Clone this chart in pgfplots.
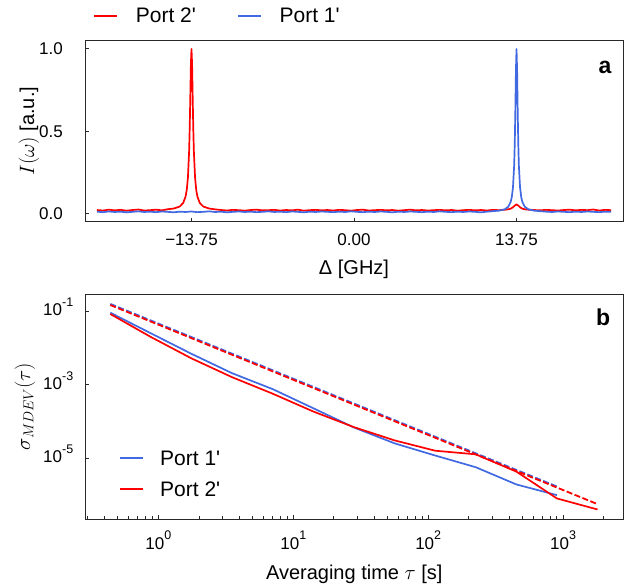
\documentclass[border=0pt]{standalone}
\usepackage{fontspec}
\setmainfont{Liberation Sans}[Ligatures=TeXOff]
\usepackage{pgfplots}
\usepackage{pgfplotstable}
\pgfplotsset{compat=1.18}
\definecolor{pred}{RGB}{255,0,0}
\definecolor{pblue}{RGB}{65,105,225}
\definecolor{axgray}{RGB}{40,40,40}
\newcommand{\tenpow}[1]{10\raisebox{9.5pt}{\fontsize{12.5}{13}\selectfont #1}}

\pgfplotstableread{
x y
-21.75 0.021
-21.25 0.018
-20.75 0.023
-20.25 0.019
-19.75 0.022
-19.25 0.017
-18.75 0.021
-18.25 0.024
-17.75 0.018
-17.25 0.020
-16.75 0.023
-16.25 0.019
-15.75 0.026
-15.25 0.030
-14.75 0.042
-14.45 0.064
-14.25 0.103
-14.15 0.143
-14.05 0.22
-13.95 0.38
-13.90 0.52
-13.85 0.71
-13.80 0.91
-13.75 1.0
-13.70 0.91
-13.65 0.71
-13.60 0.52
-13.55 0.38
-13.45 0.22
-13.35 0.143
-13.25 0.103
-13.05 0.064
-12.75 0.042
-12.25 0.030
-11.75 0.025
-11.25 0.021
-10.75 0.018
-10.25 0.022
-9.75 0.020
-9.25 0.017
-8.75 0.021
-8.25 0.023
-7.75 0.019
-7.25 0.020
-6.75 0.022
-6.25 0.018
-5.75 0.021
-5.25 0.019
-4.75 0.023
-4.25 0.017
-3.75 0.020
-3.25 0.022
-2.75 0.019
-2.25 0.021
-1.75 0.018
-1.25 0.022
-0.75 0.020
-0.25 0.017
0.25 0.021
0.75 0.023
1.25 0.018
1.75 0.020
2.25 0.022
2.75 0.019
3.25 0.021
3.75 0.017
4.25 0.020
4.75 0.023
5.25 0.019
5.75 0.021
6.25 0.018
6.75 0.020
7.25 0.022
7.75 0.019
8.25 0.021
8.75 0.017
9.25 0.020
9.75 0.022
10.25 0.019
10.75 0.021
11.25 0.018
11.75 0.022
12.25 0.020
12.95 0.024
13.25 0.029
13.45 0.0375
13.60 0.048
13.75 0.055
13.90 0.048
14.05 0.0375
14.25 0.029
14.55 0.024
15.25 0.021
15.75 0.019
16.25 0.022
16.75 0.020
17.25 0.018
17.75 0.021
18.25 0.023
18.75 0.019
19.25 0.022
19.75 0.020
20.25 0.024
20.75 0.018
21.25 0.022
21.75 0.020
}\redspec

\pgfplotstableread{
x y
-21.75 0.011
-21.25 0.008
-20.75 0.012
-20.25 0.009
-19.75 0.011
-19.25 0.007
-18.75 0.010
-18.25 0.013
-17.75 0.009
-17.25 0.011
-16.75 0.008
-16.25 0.012
-15.75 0.010
-15.25 0.007
-14.75 0.011
-14.25 0.009
-13.75 0.012
-13.25 0.008
-12.75 0.010
-12.25 0.013
-11.75 0.009
-11.25 0.011
-10.75 0.007
-10.25 0.010
-9.75 0.012
-9.25 0.009
-8.75 0.011
-8.25 0.008
-7.75 0.010
-7.25 0.013
-6.75 0.009
-6.25 0.011
-5.75 0.008
-5.25 0.012
-4.75 0.010
-4.25 0.007
-3.75 0.011
-3.25 0.009
-2.75 0.012
-2.25 0.010
-1.75 0.008
-1.25 0.011
-0.75 0.009
-0.25 0.013
0.25 0.010
0.75 0.008
1.25 0.011
1.75 0.009
2.25 0.012
2.75 0.010
3.25 0.007
3.75 0.011
4.25 0.009
4.75 0.012
5.25 0.010
5.75 0.008
6.25 0.011
6.75 0.009
7.25 0.013
7.75 0.010
8.25 0.008
8.75 0.011
9.25 0.009
9.75 0.012
10.25 0.010
10.75 0.007
11.25 0.011
11.75 0.014
12.25 0.017
12.75 0.025
13.05 0.041
13.25 0.069
13.35 0.099
13.45 0.158
13.55 0.29
13.60 0.42
13.65 0.62
13.70 0.87
13.75 1.0
13.80 0.87
13.85 0.62
13.90 0.42
13.95 0.29
14.05 0.158
14.15 0.099
14.25 0.069
14.45 0.041
14.75 0.025
15.25 0.017
15.75 0.014
16.25 0.011
16.75 0.009
17.25 0.012
17.75 0.010
18.25 0.008
18.75 0.011
19.25 0.009
19.75 0.012
20.25 0.010
20.75 0.008
21.25 0.011
21.75 0.010
}\bluespec

\pgfplotstableread{
tau val
0.44 0.0900
0.88 0.0247
1.76 6.82e-3
3.52 2.03e-3
7.04 7.48e-4
14.08 2.26e-4
28.16 6.76e-5
56.32 2.51e-5
112.64 1.17e-5
225.28 5.62e-6
450.56 1.91e-6
901.12 9.77e-7
}\bluemdev

\pgfplotstableread{
tau val
0.44 0.0828
0.88 0.0196
1.76 5.13e-3
3.52 1.58e-3
7.04 5.62e-4
14.08 1.84e-4
28.16 6.92e-5
56.32 3.02e-5
112.64 1.58e-5
225.28 1.26e-5
450.56 4.27e-6
901.12 7.94e-7
1802.24 3.98e-7
}\redmdev

\begin{document}
\begin{tikzpicture}
\useasboundingbox (0pt,0pt) rectangle (626pt,-586pt);
% ---------------- panel a ----------------
\begin{axis}[
  at={(85pt,-40.7pt)}, anchor=north west,
  scale only axis, width=538pt, height=181pt,
  xmin=-22.76, xmax=22.76, ymin=-0.05, ymax=1.05,
  axis line style={draw=axgray, line width=1pt},
  every tick/.style={axgray, line width=0.9pt},
  tick align=inside, major tick length=4pt,
  xtick pos=bottom, ytick pos=left,
  xtick={-13.75,0,13.75}, xticklabels={−13.75,0.00,13.75},
  ytick={0,0.5,1}, yticklabels={0.0,0.5,1.0},
  ticklabel style={font=\fontsize{17}{20}\selectfont, text=black},
  xticklabel style={inner sep=0pt, anchor=north, yshift=-12pt},
  yticklabel style={inner sep=0pt, anchor=east, xshift=-22pt},
  xlabel={Δ [GHz]},
  ylabel={$I(\omega)$ [a.u.]},
  xlabel style={at={(axis description cs:0.5,-0.261)}, anchor=center, font=\fontsize{20}{24}\selectfont},
  ylabel style={at={(axis description cs:-0.104,0.5)}, anchor=center, font=\fontsize{20}{24}\selectfont},
  legend columns=2,
  legend style={draw=none, fill=none, at={(0.0149,1.1365)}, anchor=west, inner sep=0pt,
    font=\fontsize{21}{25}\selectfont, nodes={inner xsep=0pt, inner ysep=2pt},
    /tikz/every odd column/.append style={column sep=18pt},
    /tikz/every even column/.append style={column sep=41pt}},
  legend image code/.code={\draw[#1] (0pt,0pt) -- (23pt,0pt);},
]
\addplot[pred, line width=1.7pt, line join=round] table[x=x,y=y] {\redspec};
\addlegendentry{Port 2'}
\addplot[pblue, line width=1.7pt, line join=round] table[x=x,y=y] {\bluespec};
\addlegendentry{Port 1'}
\node[font=\bfseries\fontsize{23}{27}\selectfont] at (rel axis cs:0.9665,0.855) {a};
\end{axis}
% ---------------- panel b ----------------
\begin{axis}[
  at={(85.5pt,-294pt)}, anchor=north west,
  scale only axis, width=537.5pt, height=225.3pt,
  xmode=log, ymode=log,
  xmin=0.288, xmax=2782, ymin=2.15e-7, ymax=0.29,
  axis line style={draw=axgray, line width=1pt},
  every tick/.style={axgray, line width=0.9pt},
  tick align=inside, major tick length=4pt, minor tick length=3.5pt,
  xtick pos=bottom, ytick pos=left,
  xtick={1,10,100,1000},
  xticklabels={\tenpow{0},\tenpow{1},\tenpow{2},\tenpow{3}},
  minor xtick={0.3,0.4,0.5,0.6,0.7,0.8,0.9,2,3,4,5,6,7,8,9,20,30,40,50,60,70,80,90,200,300,400,500,600,700,800,900,2000},
  ytick={1e-1,1e-3,1e-5},
  yticklabels={\tenpow{-1},\tenpow{-3},\tenpow{-5}},
  yminorticks=false,
  ticklabel style={font=\fontsize{17}{20}\selectfont, text=black},
  xticklabel style={inner sep=0pt, anchor=north, yshift=-11.4pt},
  yticklabel style={inner sep=0pt, anchor=west, xshift=-42.5pt, yshift=4pt},
  xlabel={Averaging time $\tau$ [s]},
  ylabel={$\sigma_{MDEV}(\tau)$},
  xlabel style={at={(axis description cs:0.5,-0.243)}, anchor=center, font=\fontsize{20}{24}\selectfont},
  ylabel style={at={(axis description cs:-0.1125,0.5)}, anchor=center, font=\fontsize{20}{24}\selectfont},
]
\addplot[pblue, line width=1.7pt, line join=round] table[x=tau,y=val] {\bluemdev};
\addplot[pred, line width=1.7pt, line join=round] table[x=tau,y=val] {\redmdev};
\addplot[pblue, line width=1.8pt, dash pattern=on 6pt off 2.5pt] coordinates {(0.44,0.156) (901.12,1.68e-6)};
\addplot[pred, line width=1.8pt, dash pattern=on 6pt off 2.5pt] coordinates {(0.44,0.1456) (1802.24,5.56e-7)};
% legend keys
\draw[pblue, line width=1.7pt] (axis description cs:0.0642,0.2708) -- (axis description cs:0.107,0.2708);
\draw[pred, line width=1.7pt] (axis description cs:0.0642,0.1345) -- (axis description cs:0.107,0.1345);
\node[anchor=west, inner sep=0pt, font=\fontsize{21}{25}\selectfont] at (axis description cs:0.1386,0.2708) {Port 1'};
\node[anchor=west, inner sep=0pt, font=\fontsize{21}{25}\selectfont] at (axis description cs:0.1386,0.1345) {Port 2'};
\node[font=\bfseries\fontsize{23}{27}\selectfont] at (rel axis cs:0.963,0.898) {b};
\end{axis}
\end{tikzpicture}
\end{document}
